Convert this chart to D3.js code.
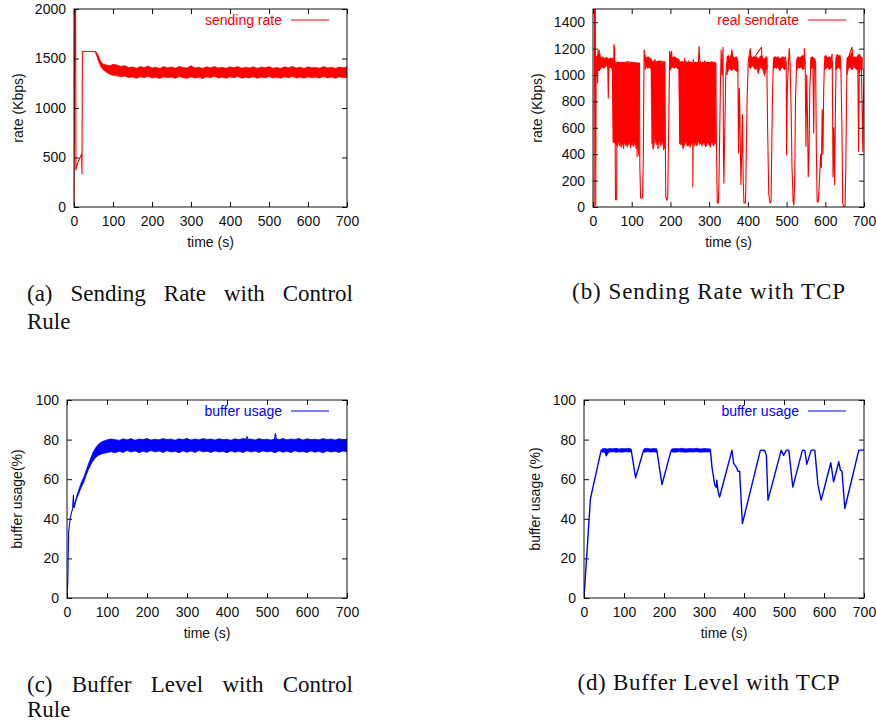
<!DOCTYPE html>
<html lang="en">
<head>
<meta charset="utf-8">
<script src="https://d3js.org/d3.v7.min.js"></script>
<style>
  body { margin: 0; background: #fff; }
  .caption { font-family: "Liberation Serif", "Times New Roman", serif; font-size: 23px; fill: #111; }
  .lab { font-family: "Liberation Sans", Arial, sans-serif; font-size: 14px; }
</style>
</head>
<body>
<script>
// ---------- values ----------
var timeTicks   = [0, 100, 200, 300, 400, 500, 600, 700];
var rateTicksA  = [0, 500, 1000, 1500, 2000];
var rateTicksB  = [0, 200, 400, 600, 800, 1000, 1200, 1400];
var bufferTicks = [0, 20, 40, 60, 80, 100];

// (a) sending rate with control rule: start-up trace + noisy steady band
var aLineT = [0, 2, 4, 5, 9, 15, 19.7, 20.5, 21.5, 54];
var aLineV = [0, 2100, 2100, 376, 443, 494, 538, 336, 1570, 1570];
var aBandT = [54, 58, 62, 66, 70, 75, 80, 85, 90, 95, 100,
  110, 120, 130, 140, 150, 160, 170, 180, 190, 200,
  210, 220, 230, 240, 250, 260, 270, 280, 290, 300,
  310, 320, 330, 340, 350, 360, 370, 380, 390, 400,
  410, 420, 430, 440, 450, 460, 470, 480, 490, 500,
  510, 520, 530, 540, 550, 560, 570, 580, 590, 600,
  610, 620, 630, 640, 650, 660, 670, 680, 690, 700];
var aBandLo = [1565, 1530, 1480, 1440, 1410, 1385, 1370, 1355, 1345, 1335, 1330,
  1325, 1315, 1322, 1308, 1312, 1300, 1315, 1306, 1320, 1302,
  1310, 1298, 1316, 1305, 1312, 1300, 1318, 1306, 1300, 1314,
  1303, 1310, 1298, 1316, 1305, 1320, 1302, 1311, 1300, 1315,
  1306, 1318, 1301, 1310, 1304, 1316, 1300, 1312, 1305, 1318,
  1302, 1310, 1300, 1315, 1306, 1320, 1302, 1312, 1300, 1316,
  1305, 1310, 1302, 1318, 1304, 1312, 1300, 1314, 1306, 1310];
var aBandHi = [1575, 1562, 1530, 1492, 1462, 1445, 1438, 1432, 1428, 1432, 1442,
  1435, 1420, 1428, 1408, 1415, 1402, 1418, 1408, 1425, 1404,
  1412, 1400, 1418, 1406, 1414, 1402, 1420, 1408, 1404, 1428,
  1405, 1412, 1400, 1416, 1406, 1420, 1403, 1412, 1401, 1416,
  1406, 1418, 1402, 1412, 1404, 1416, 1400, 1414, 1406, 1418,
  1402, 1410, 1400, 1416, 1406, 1420, 1404, 1412, 1400, 1416,
  1406, 1410, 1402, 1418, 1404, 1412, 1400, 1414, 1406, 1416];

// (b) real send rate with TCP: dips/spikes trace + dense oscillation bands (null = gap)
var bLineT = [0, 3, 4, 6, 7, 8, 10, 12, 13, 15,
  20, 30, 38, 39.5, 41, 48, 50, 52, 54, 56,
  57, 58, 61, 62, 63, 70, 90, 110, 114, 116,
  120, 121, 123, 128, 130, 132, 135, 145, 151, 155,
  157, 185, 187, 188, 191, 193, 196, 198, 200, 203,
  205, 222, 224, 226, 250, 257, 258, 259, 261, 272,
  274, 276, 300, 317, 319, 321, 324, 326, 329, 331,
  333, 336, 337, 338, 340, 343, 346, 355, 359, 362,
  374, 376, 378, 380, 382, 384, 386, 388, 390, 394,
  396, 398, 401, 406, 409, 435, 437, 449, 451, 454,
  457, 460, 462, 464, 466, 490, 499, 500, 502, 505,
  507, 509, 512, 514, 517, 519, 521, 523, 526, 545,
  546, 548, 550, 552, 554, 556, 558, 560, 563, 568,
  570, 572, 575, 577, 579, 582, 585, 588, 590, 592,
  594, 596, 598, 618, 620, 622, 624, 626, 628, 638,
  640, 643, 645, 648, 651, 653, 656, 669, 672, 684,
  686, 688, 693, 697, 699, 700];
var bLineV = [0, 0, 1600, 1600, 10, 1000, 1100, 940, 1190, 1080,
  1100, 1080, 1090, 825, 1080, 1090, 1040, 490, 1230, 1200,
  700, 55, 55, 700, 1100, 1090, 1100, 1090, 380, 1090,
  1090, 300, 68, 68, 400, 1190, 1100, 1120, 1100, 440,
  1100, 1100, 420, 75, 50, 80, 700, 1180, 1100, 1180,
  1100, 1100, 480, 1100, 1095, 1090, 154, 800, 1090, 1090,
  1218, 1090, 1095, 1090, 450, 30, 30, 300, 900, 1190,
  1000, 1210, 400, 180, 500, 1000, 1100, 1100, 1190, 1100,
  1100, 409, 900, 600, 170, 400, 700, 200, 30, 30,
  400, 800, 1100, 1200, 1100, 1210, 1100, 1100, 600, 100,
  30, 40, 500, 900, 1100, 1100, 1100, 395, 900, 1100,
  1200, 1100, 700, 300, 40, 15, 200, 800, 1100, 1100,
  1200, 1100, 460, 1000, 700, 230, 400, 900, 1100, 1100,
  560, 1100, 1100, 420, 40, 40, 200, 400, 300, 737,
  400, 900, 1100, 1100, 230, 600, 170, 700, 1100, 1150,
  1100, 600, 30, 0, 0, 300, 1100, 1210, 1100, 1100,
  420, 1100, 1100, 420, 900, 1050];
var bBandT = [
  8, 12, 16, 20, 24, 28, 32, 36, 40, 44, 48, 51,
  53, 55, 57, 59, 61, 63, 65, 67, 69, 71, 73, 75, 77, 79, 81, 83, 85,
  87, 89, 91, 93, 95, 97, 99, 101, 103, 105, 107, 109, 111, 113, 115, 117, 119,
  121,
  134, 138, 142, 146, 150,
  152, 154, 156, 158, 160, 162, 164, 166, 168, 170, 172, 174, 176, 178, 180, 182, 184, 186,
  188,
  198, 202, 206, 210, 214, 218, 222,
  225, 227, 229, 231, 233, 235, 237, 239, 241, 243, 245, 247, 249, 251, 253, 255,
  257, 259, 261, 263, 265, 267, 269, 271, 273, 275, 277, 279, 281, 283, 285, 287,
  289, 291, 293, 295, 297, 299, 301, 303, 305, 307, 309, 311, 313, 315, 317,
  320,
  346, 350, 354, 358, 362, 366, 370, 374,
  375,
  403, 407, 411, 415, 419, 423, 427, 431, 435, 439, 443, 447, 450,
  451,
  466, 470, 474, 478, 482, 486, 490, 494, 498,
  499,
  526, 530, 534, 538, 542, 546,
  547,
  562, 566, 570, 574,
  575,
  598, 602, 606, 610, 614, 618,
  619,
  627, 631, 635, 639,
  640,
  656, 660, 664, 668, 672, 676, 680, 684, 688, 692, 696];
var bBandLo = [
  1020, 1040, 1030, 1050, 1060, 1050, 1060, 1070, 1050, 1060, 1050, 1040,
  490, 488, 492, 470, 486, 455, 480, 500, 462, 478, 450, 485, 470, 440, 492, 475, 460,
  488, 452, 480, 470, 495, 445, 478, 466, 490, 455, 472, 484, 440, 468, 480, 420, 385,
  null,
  1040, 1060, 1050, 1060, 1040,
  480, 500, 445, 470, 520, 490, 470, 505, 440, 480, 510, 460, 495, 470, 500, 430, 460, 440,
  null,
  1030, 1050, 1060, 1050, 1060, 1050, 1040,
  490, 470, 482, 455, 440, 468, 470, 495, 490, 460, 472, 460, 480, 450, 470, 488,
  490, 475, 460, 485, 480, 462, 470, 500, 495, 470, 482, 485, 460, 478, 480, 490,
  470, 455, 460, 485, 485, 470, 470, 450, 480, 495, 478, 462, 470, 490, 480,
  null,
  1000, 1040, 1050, 1030, 1050, 1040, 1030, 1020,
  null,
  1060, 1050, 1070, 1060, 1040, 1050, 1010, 1060, 1050, 1040, 990, 1050, 1040,
  null,
  1040, 1060, 1050, 1060, 1030, 1050, 1060, 1040, 1050,
  null,
  1030, 1060, 1050, 1060, 1040, 1050,
  null,
  1040, 1060, 1050, 1040,
  null,
  1040, 1050, 1060, 1040, 1050, 1060,
  null,
  1040, 1050, 1060, 1040,
  null,
  1000, 1050, 1060, 1040, 1050, 1060, 1040, 1050, 1010, 1060, 1040];
var bBandHi = [
  1140, 1150, 1190, 1130, 1140, 1125, 1130, 1135, 1120, 1130, 1125, 1130,
  1100, 1095, 1105, 1090, 1095, 1100, 1090, 1095, 1092, 1100, 1090, 1095, 1090, 1098, 1090, 1095, 1092,
  1090, 1100, 1090, 1095, 1090, 1092, 1100, 1090, 1095, 1090, 1098, 1090, 1095, 1090, 1092, 1090, 1090,
  null,
  1150, 1130, 1140, 1130, 1125,
  1110, 1100, 1105, 1110, 1120, 1100, 1095, 1100, 1110, 1100, 1105, 1110, 1100, 1095, 1090, 1100, 1095, 1100,
  null,
  1170, 1140, 1130, 1140, 1130, 1125, 1120,
  1095, 1100, 1090, 1105, 1090, 1095, 1130, 1090, 1100, 1095, 1090, 1110, 1095, 1090, 1100, 1095,
  1090, 1120, 1095, 1090, 1100, 1095, 1090, 1100, 1095, 1090, 1105, 1095, 1090, 1100, 1095, 1090,
  1110, 1095, 1090, 1100, 1095, 1090, 1100, 1095, 1090, 1105, 1095, 1090, 1100, 1095, 1090,
  null,
  1140, 1150, 1130, 1160, 1140, 1130, 1140, 1120,
  null,
  1140, 1150, 1130, 1140, 1130, 1140, 1120, 1140, 1150, 1130, 1120, 1140, 1130,
  null,
  1130, 1140, 1130, 1140, 1125, 1130, 1140, 1130, 1140,
  null,
  1120, 1140, 1130, 1140, 1150, 1140,
  null,
  1130, 1140, 1130, 1120,
  null,
  1140, 1150, 1130, 1140, 1130, 1160,
  null,
  1130, 1160, 1140, 1130,
  null,
  1130, 1140, 1150, 1170, 1130, 1140, 1130, 1150, 1160, 1140, 1130];

// (c) buffer usage with control rule
var cLineT = [0, 2, 4, 6, 8, 11, 14, 16, 17, 18, 19, 446, 450, 454, 455, 518, 521, 524];
var cLineV = [0, 8, 33, 37, 40, 43, 45, 52, 46, 46, null, 79.5, 81.5, 79.5, null, 79.5, 83, 79.5];
var cBandT = [18, 24, 30, 36, 42, 48, 54, 60, 66, 72, 78, 84, 90, 96, 102,
  110, 120, 130, 140, 150, 160, 170, 180, 190, 200,
  210, 220, 230, 240, 250, 260, 270, 280, 290, 300,
  310, 320, 330, 340, 350, 360, 370, 380, 390, 400,
  410, 420, 430, 440, 450, 460, 470, 480, 490, 500,
  510, 520, 530, 540, 550, 560, 570, 580, 590, 600,
  610, 620, 630, 640, 650, 660, 670, 680, 690, 700];
var cBandLo = [45.5, 50, 53, 56, 58.5, 62, 65, 67.5, 69.5, 71, 72, 72.5, 73, 73.2, 73.5,
  73.9, 73.3, 74.1, 73.5, 74.5, 73.7, 74.3, 73.4, 74.1, 73.6,
  74.5, 73.8, 74.2, 73.5, 74.4, 73.7, 74.1, 73.4, 74.3, 73.6,
  74.2, 73.5, 74.5, 73.8, 74.1, 73.5, 74.3, 73.7, 74.0, 73.4,
  74.3, 73.6, 74.1, 73.5, 74.4, 73.7, 74.2, 73.5, 74.3, 73.8,
  74.1, 73.4, 74.3, 73.6, 74.1, 73.5, 74.4, 73.7, 74.0, 73.5,
  74.3, 73.6, 74.1, 73.3, 74.3, 73.7, 74.1, 73.5, 74.3, 73.8];
var cBandHi = [47, 51.5, 55, 58.5, 61, 64.5, 68, 71, 74, 76, 77.5, 78.5, 79.2, 79.6, 80,
  80.3, 80.0, 79.6, 80.4, 79.9, 80.5, 79.7, 80.3, 80.0, 80.6,
  79.8, 80.2, 79.9, 80.5, 80.0, 80.3, 79.7, 80.4, 80.0, 80.6,
  79.8, 80.3, 79.9, 80.5, 80.1, 80.3, 79.8, 80.4, 80.0, 80.2,
  79.7, 80.4, 80.0, 80.6, 80.1, 80.3, 79.8, 80.5, 80.0, 80.2,
  79.8, 80.4, 80.0, 80.5, 79.9, 80.3, 80.1, 80.6, 79.8, 80.4,
  80.0, 80.2, 79.9, 80.5, 80.0, 80.3, 79.8, 80.4, 80.0, 80.2];

// (d) buffer usage with TCP
var dLineT = [0, 16, 18, 43, 50, 56, 60, 118, 129, 149,
  182, 195, 218, 316, 320, 327, 331, 332, 335, 339,
  370, 374, 378, 381, 385, 389, 396, 441, 452, 456,
  460, 493, 499, 506, 512, 522, 546, 552, 557, 568,
  577, 585, 593, 617, 624, 637, 641, 645, 652, 687, 700];
var dLineV = [0, 50, 52, 74.7, 74.7, 71.8, 74.7, 74.7, 60.7, 74.7,
  74.7, 57.3, 74.7, 74.7, 66, 57, 55.8, 59.5, 54, 51,
  74.7, 68, 67, 66, 64, 64, 37.6, 74.7, 74.5, 72,
  49.4, 74.7, 72, 74.7, 74.7, 56, 74.7, 74.5, 67.5, 74.7,
  74.7, 57, 49.4, 68.3, 58.7, 68.8, 64.6, 64, 45.2, 74.7, 74.7];
var dBandT  = [45, 52, 58, 64, 72, 80, 88, 96, 104, 112, 118, 119,
  150, 158, 166, 174, 182, 183,
  219, 228, 237, 246, 255, 264, 273, 282, 291, 300, 309, 316];
var dBandLo = [73.6, 73.8, 72.6, 73.7, 73.9, 73.6, 73.8, 73.6, 73.9, 73.7, 73.8, null,
  73.6, 73.9, 73.7, 73.8, 73.6, null,
  73.8, 73.6, 73.9, 73.7, 73.6, 73.8, 73.7, 73.9, 73.6, 73.8, 73.7, 73.8];
var dBandHi = [75.3, 75.6, 75.2, 75.5, 75.4, 75.6, 75.3, 75.5, 75.4, 75.6, 75.3, null,
  75.4, 75.6, 75.3, 75.5, 75.4, null,
  75.3, 75.5, 75.4, 75.6, 75.3, 75.5, 75.4, 75.6, 75.3, 75.5, 75.4, 75.3];

var captionA = ["(a) Sending Rate with Control", "Rule"];
var captionB = ["(b) Sending Rate with TCP"];
var captionC = ["(c) Buffer Level with Control", "Rule"];
var captionD = ["(d) Buffer Level with TCP"];

// ---------- layout ----------
var width = 876, height = 723;
var svg = d3.select("body").append("svg")
    .attr("width", width)
    .attr("height", height);

var panels = [
  { id: "a", left: 74, right: 347, top: 9, bottom: 207, ymax: 2000, yticks: rateTicksA,
    color: "#ff0000", ylabel: "rate (Kbps)", ylabelX: 18, legend: "sending rate",
    lineT: aLineT, lineV: aLineV, bandT: aBandT, bandLo: aBandLo, bandHi: aBandHi },
  { id: "b", left: 593, right: 864, top: 9, bottom: 207, ymax: 1500, yticks: rateTicksB,
    color: "#ff0000", ylabel: "rate (Kbps)", ylabelX: 537, legend: "real sendrate",
    lineT: bLineT, lineV: bLineV, bandT: bBandT, bandLo: bBandLo, bandHi: bBandHi },
  { id: "c", left: 67, right: 347, top: 400, bottom: 598, ymax: 100, yticks: bufferTicks,
    color: "#0000ff", ylabel: "buffer usage(%)", ylabelX: 17, legend: "buffer usage",
    lineT: cLineT, lineV: cLineV, bandT: cBandT, bandLo: cBandLo, bandHi: cBandHi },
  { id: "d", left: 584, right: 864, top: 400, bottom: 598, ymax: 100, yticks: bufferTicks,
    color: "#0000ff", ylabel: "buffer usage (%)", ylabelX: 535, legend: "buffer usage",
    lineT: dLineT, lineV: dLineV, bandT: dBandT, bandLo: dBandLo, bandHi: dBandHi, lineW: 1.4 }
];

panels.forEach(drawPanel);

function drawPanel(p) {
  var x = d3.scaleLinear().domain([0, 700]).range([p.left, p.right]);
  var y = d3.scaleLinear().domain([0, p.ymax]).range([p.bottom, p.top]);

  svg.append("clipPath").attr("id", "clip-" + p.id)
    .append("rect")
      .attr("x", p.left).attr("y", p.top)
      .attr("width", p.right - p.left).attr("height", p.bottom - p.top);

  var plot = svg.append("g").attr("clip-path", "url(#clip-" + p.id + ")");

  var band = p.bandT.map(function(t, i) {
    return { t: t, lo: p.bandLo[i], hi: p.bandHi[i] };
  });
  plot.append("path")
    .datum(band)
    .attr("d", d3.area()
      .defined(function(d) { return d.lo != null && d.hi != null; })
      .x(function(d) { return x(d.t); })
      .y0(function(d) { return y(d.lo); })
      .y1(function(d) { return y(d.hi); }))
    .attr("fill", p.color)
    .attr("stroke", p.color)
    .attr("stroke-width", 0.7);

  var pts = p.lineT.map(function(t, i) { return { t: t, v: p.lineV[i] }; });
  plot.append("path")
    .datum(pts)
    .attr("d", d3.line()
      .defined(function(d) { return d.v != null; })
      .x(function(d) { return x(d.t); })
      .y(function(d) { return y(d.v); }))
    .attr("fill", "none")
    .attr("stroke", p.color)
    .attr("stroke-width", p.lineW || 1.1)
    .attr("stroke-linejoin", "round");

  // gnuplot style axes: inward ticks, mirrored
  var fmt = d3.format("d");
  var axes = [
    { ax: d3.axisBottom(x).tickValues(timeTicks).tickSize(-5).tickPadding(9).tickFormat(fmt), tr: "translate(0," + p.bottom + ")" },
    { ax: d3.axisTop(x).tickValues(timeTicks).tickSize(-5).tickFormat(""), tr: "translate(0," + p.top + ")" },
    { ax: d3.axisLeft(y).tickValues(p.yticks).tickSize(-5).tickPadding(8).tickFormat(fmt), tr: "translate(" + p.left + ",0)" },
    { ax: d3.axisRight(y).tickValues(p.yticks).tickSize(-5).tickFormat(""), tr: "translate(" + p.right + ",0)" }
  ];
  axes.forEach(function(a) {
    var g = svg.append("g").attr("transform", a.tr).call(a.ax);
    g.select(".domain").remove();
    g.attr("font-family", "'Liberation Sans', Arial, sans-serif")
      .attr("font-size", 14)
      .style("color", "#111");
  });

  svg.append("rect")
    .attr("x", p.left).attr("y", p.top)
    .attr("width", p.right - p.left).attr("height", p.bottom - p.top)
    .attr("fill", "none").attr("stroke", "#111").attr("stroke-width", 1);

  svg.append("text").attr("class", "lab")
    .attr("x", (p.left + p.right) / 2).attr("y", p.bottom + 40)
    .attr("text-anchor", "middle").attr("fill", "#111")
    .text("time (s)");

  svg.append("text").attr("class", "lab")
    .attr("transform", "translate(" + p.ylabelX + "," + ((p.top + p.bottom) / 2) + ") rotate(-90)")
    .attr("text-anchor", "middle").attr("dy", "0.35em").attr("fill", "#111")
    .text(p.ylabel);

  // legend
  var ly = p.top + 11;
  svg.append("text").attr("class", "lab")
    .attr("x", p.right - 65).attr("y", ly + 5)
    .attr("text-anchor", "end").attr("fill", p.color)
    .text(p.legend);
  svg.append("line")
    .attr("x1", p.right - 56).attr("x2", p.right - 18)
    .attr("y1", ly).attr("y2", ly)
    .attr("stroke", p.color).attr("stroke-width", 1.1);
}

// ---------- sub-captions ----------
function justified(text, x0, x1, yb) {
  var words = text.split(" ");
  var nodes = words.map(function(w) {
    return svg.append("text").attr("class", "caption").attr("y", yb).text(w);
  });
  var widths = nodes.map(function(n) { return n.node().getComputedTextLength(); });
  var gap = (x1 - x0 - d3.sum(widths)) / (words.length - 1);
  var xx = x0;
  nodes.forEach(function(n, i) { n.attr("x", xx); xx += widths[i] + gap; });
}
function centered(text, cx, w, yb) {
  svg.append("text").attr("class", "caption")
    .attr("x", cx - w / 2).attr("y", yb)
    .attr("textLength", w).attr("lengthAdjust", "spacing")
    .text(text);
}
function leftLine(text, x0, yb) {
  svg.append("text").attr("class", "caption").attr("x", x0).attr("y", yb).text(text);
}

justified(captionA[0], 27, 353, 301);
leftLine(captionA[1], 27, 329);
centered(captionB[0], 708.5, 273, 299);
justified(captionC[0], 27, 353, 692);
leftLine(captionC[1], 27, 717);
centered(captionD[0], 708.5, 262, 690);
</script>
</body>
</html>
